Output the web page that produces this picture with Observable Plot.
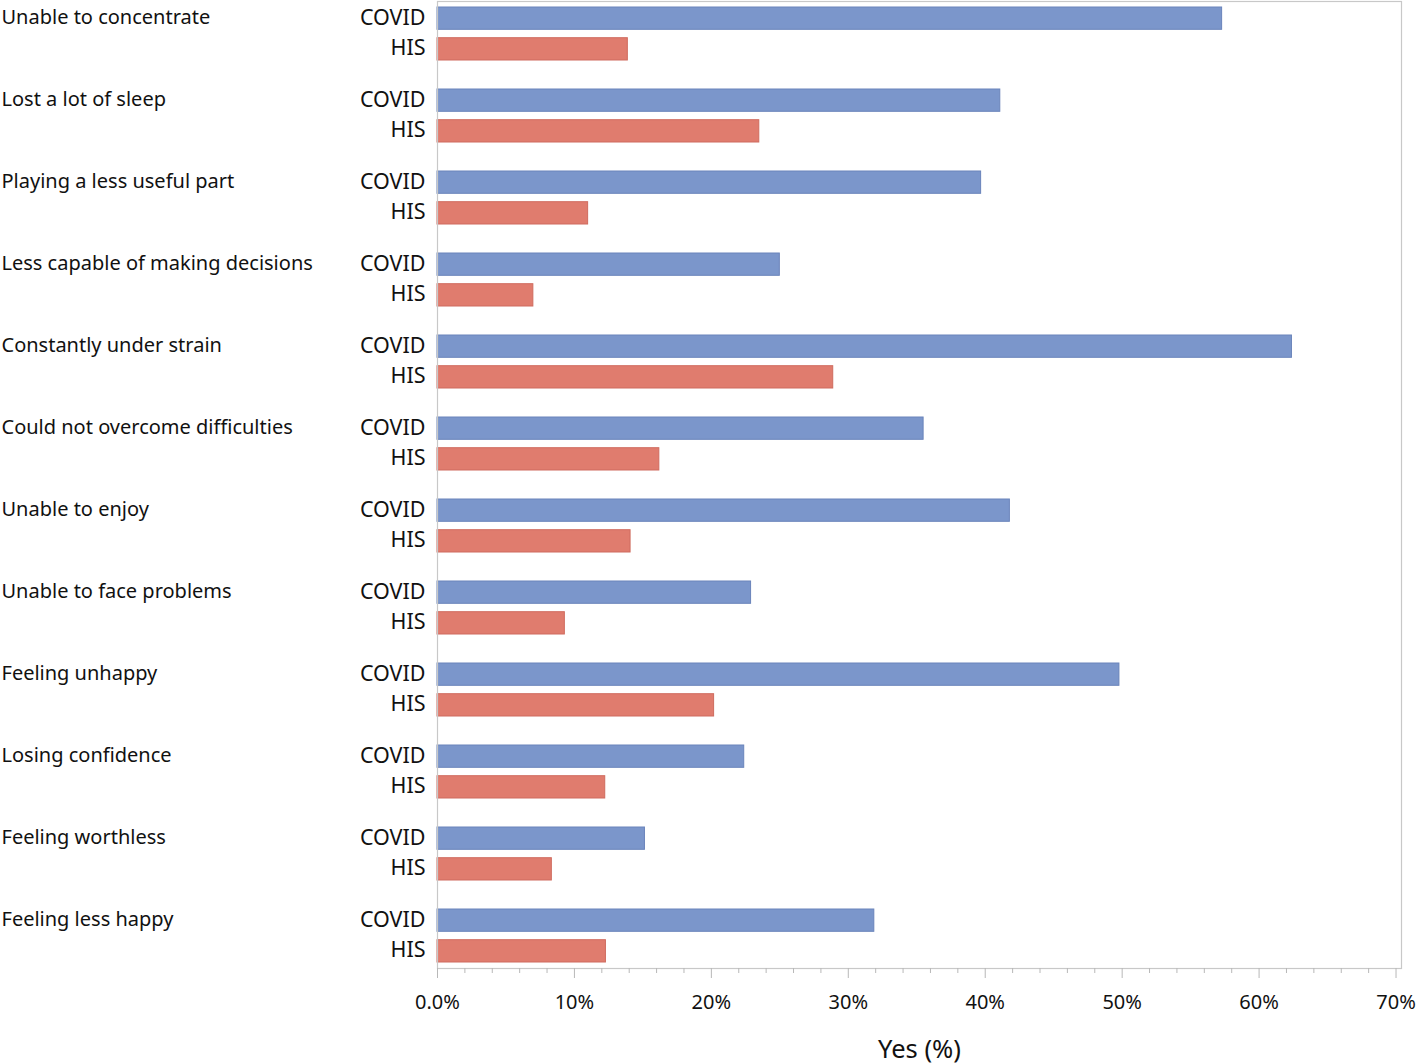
<!DOCTYPE html>
<html>
<head>
<meta charset="utf-8">
<script src="https://cdn.jsdelivr.net/npm/d3@7"></script>
<script src="https://cdn.jsdelivr.net/npm/@observablehq/plot@0.6"></script>
<style>
  html, body { margin: 0; padding: 0; background: #fff; }
  #chart { width: 1418px; height: 1064px; }
</style>
</head>
<body>
<div id="chart"></div>
<script>
const categories = [
  "Unable to concentrate",
  "Lost a lot of sleep",
  "Playing a less useful part",
  "Less capable of making decisions",
  "Constantly under strain",
  "Could not overcome difficulties",
  "Unable to enjoy",
  "Unable to face problems",
  "Feeling unhappy",
  "Losing confidence",
  "Feeling worthless",
  "Feeling less happy"
];
const groups = ["COVID", "HIS"];
const covidValues = [57.3, 41.1, 39.7, 25.0, 62.4, 35.5, 41.8, 22.9, 49.8, 22.4, 15.15, 31.9];
const hisValues   = [13.9, 23.5, 11.0, 7.0, 28.9, 16.2, 14.1, 9.3, 20.2, 12.25, 8.35, 12.3];
const majorTicks = [0, 10, 20, 30, 40, 50, 60, 70];
const minorTicks = [2, 4, 6, 8, 12, 14, 16, 18, 22, 24, 26, 28, 32, 34, 36, 38, 42, 44, 46, 48, 52, 54, 56, 58, 62, 64, 66, 68];
const xLabel = "Yes (%)";

const covidRows = categories.map((c, i) => ({category: c, group: groups[0], value: covidValues[i]}));
const hisRows = categories.map((c, i) => ({category: c, group: groups[1], value: hisValues[i]}));

const font = "Noto Sans, Open Sans, sans-serif";
const barInset = 30.7;
const labelShift = 15.35;

const chart = Plot.plot({
  width: 1418,
  height: 1064,
  marginTop: 1,
  marginBottom: 96,
  marginLeft: 437,
  marginRight: 17,
  style: {fontFamily: font, fontSize: "20px", color: "#111", background: "#fff"},
  x: {domain: [0, 70.4]},
  y: {domain: categories, paddingInner: 0.348, paddingOuter: 0.045, axis: null},
  marks: [
    Plot.barX(covidRows, {x: "value", y: "category", fill: "#7b96cb", stroke: "#6a84bb", strokeWidth: 1, insetBottom: barInset}),
    Plot.barX(hisRows, {x: "value", y: "category", fill: "#e07c6e", stroke: "#cf6b5e", strokeWidth: 1, insetTop: barInset}),
    Plot.frame({stroke: "#c8c8c8", strokeWidth: 1.2}),
    Plot.axisX({ticks: minorTicks, tickSize: 5, stroke: "#b8b8b8", tickFormat: () => "", label: null}),
    Plot.axisX({
      ticks: majorTicks, tickSize: 10, tickPadding: 16, stroke: "#b8b8b8",
      tickFormat: d => d === 0 ? "0.0%" : d + "%",
      fontSize: 20, fill: "#111",
      label: null
    }),
    Plot.text([xLabel], {text: d => d, frameAnchor: "bottom", dy: 89, fontSize: 25.5, fill: "#111"}),
    Plot.text(covidRows, {y: "category", text: "group", frameAnchor: "left", textAnchor: "end", dx: -12, dy: -labelShift - 1, fontSize: 21.5, fill: "#111"}),
    Plot.text(hisRows, {y: "category", text: "group", frameAnchor: "left", textAnchor: "end", dx: -12, dy: labelShift - 1, fontSize: 21.5, fill: "#111"}),
    Plot.text(covidRows, {y: "category", text: "category", frameAnchor: "left", textAnchor: "start", dx: -436, dy: -labelShift - 1, fontSize: 20, fill: "#111"})
  ]
});
document.getElementById("chart").appendChild(chart);
</script>
</body>
</html>
